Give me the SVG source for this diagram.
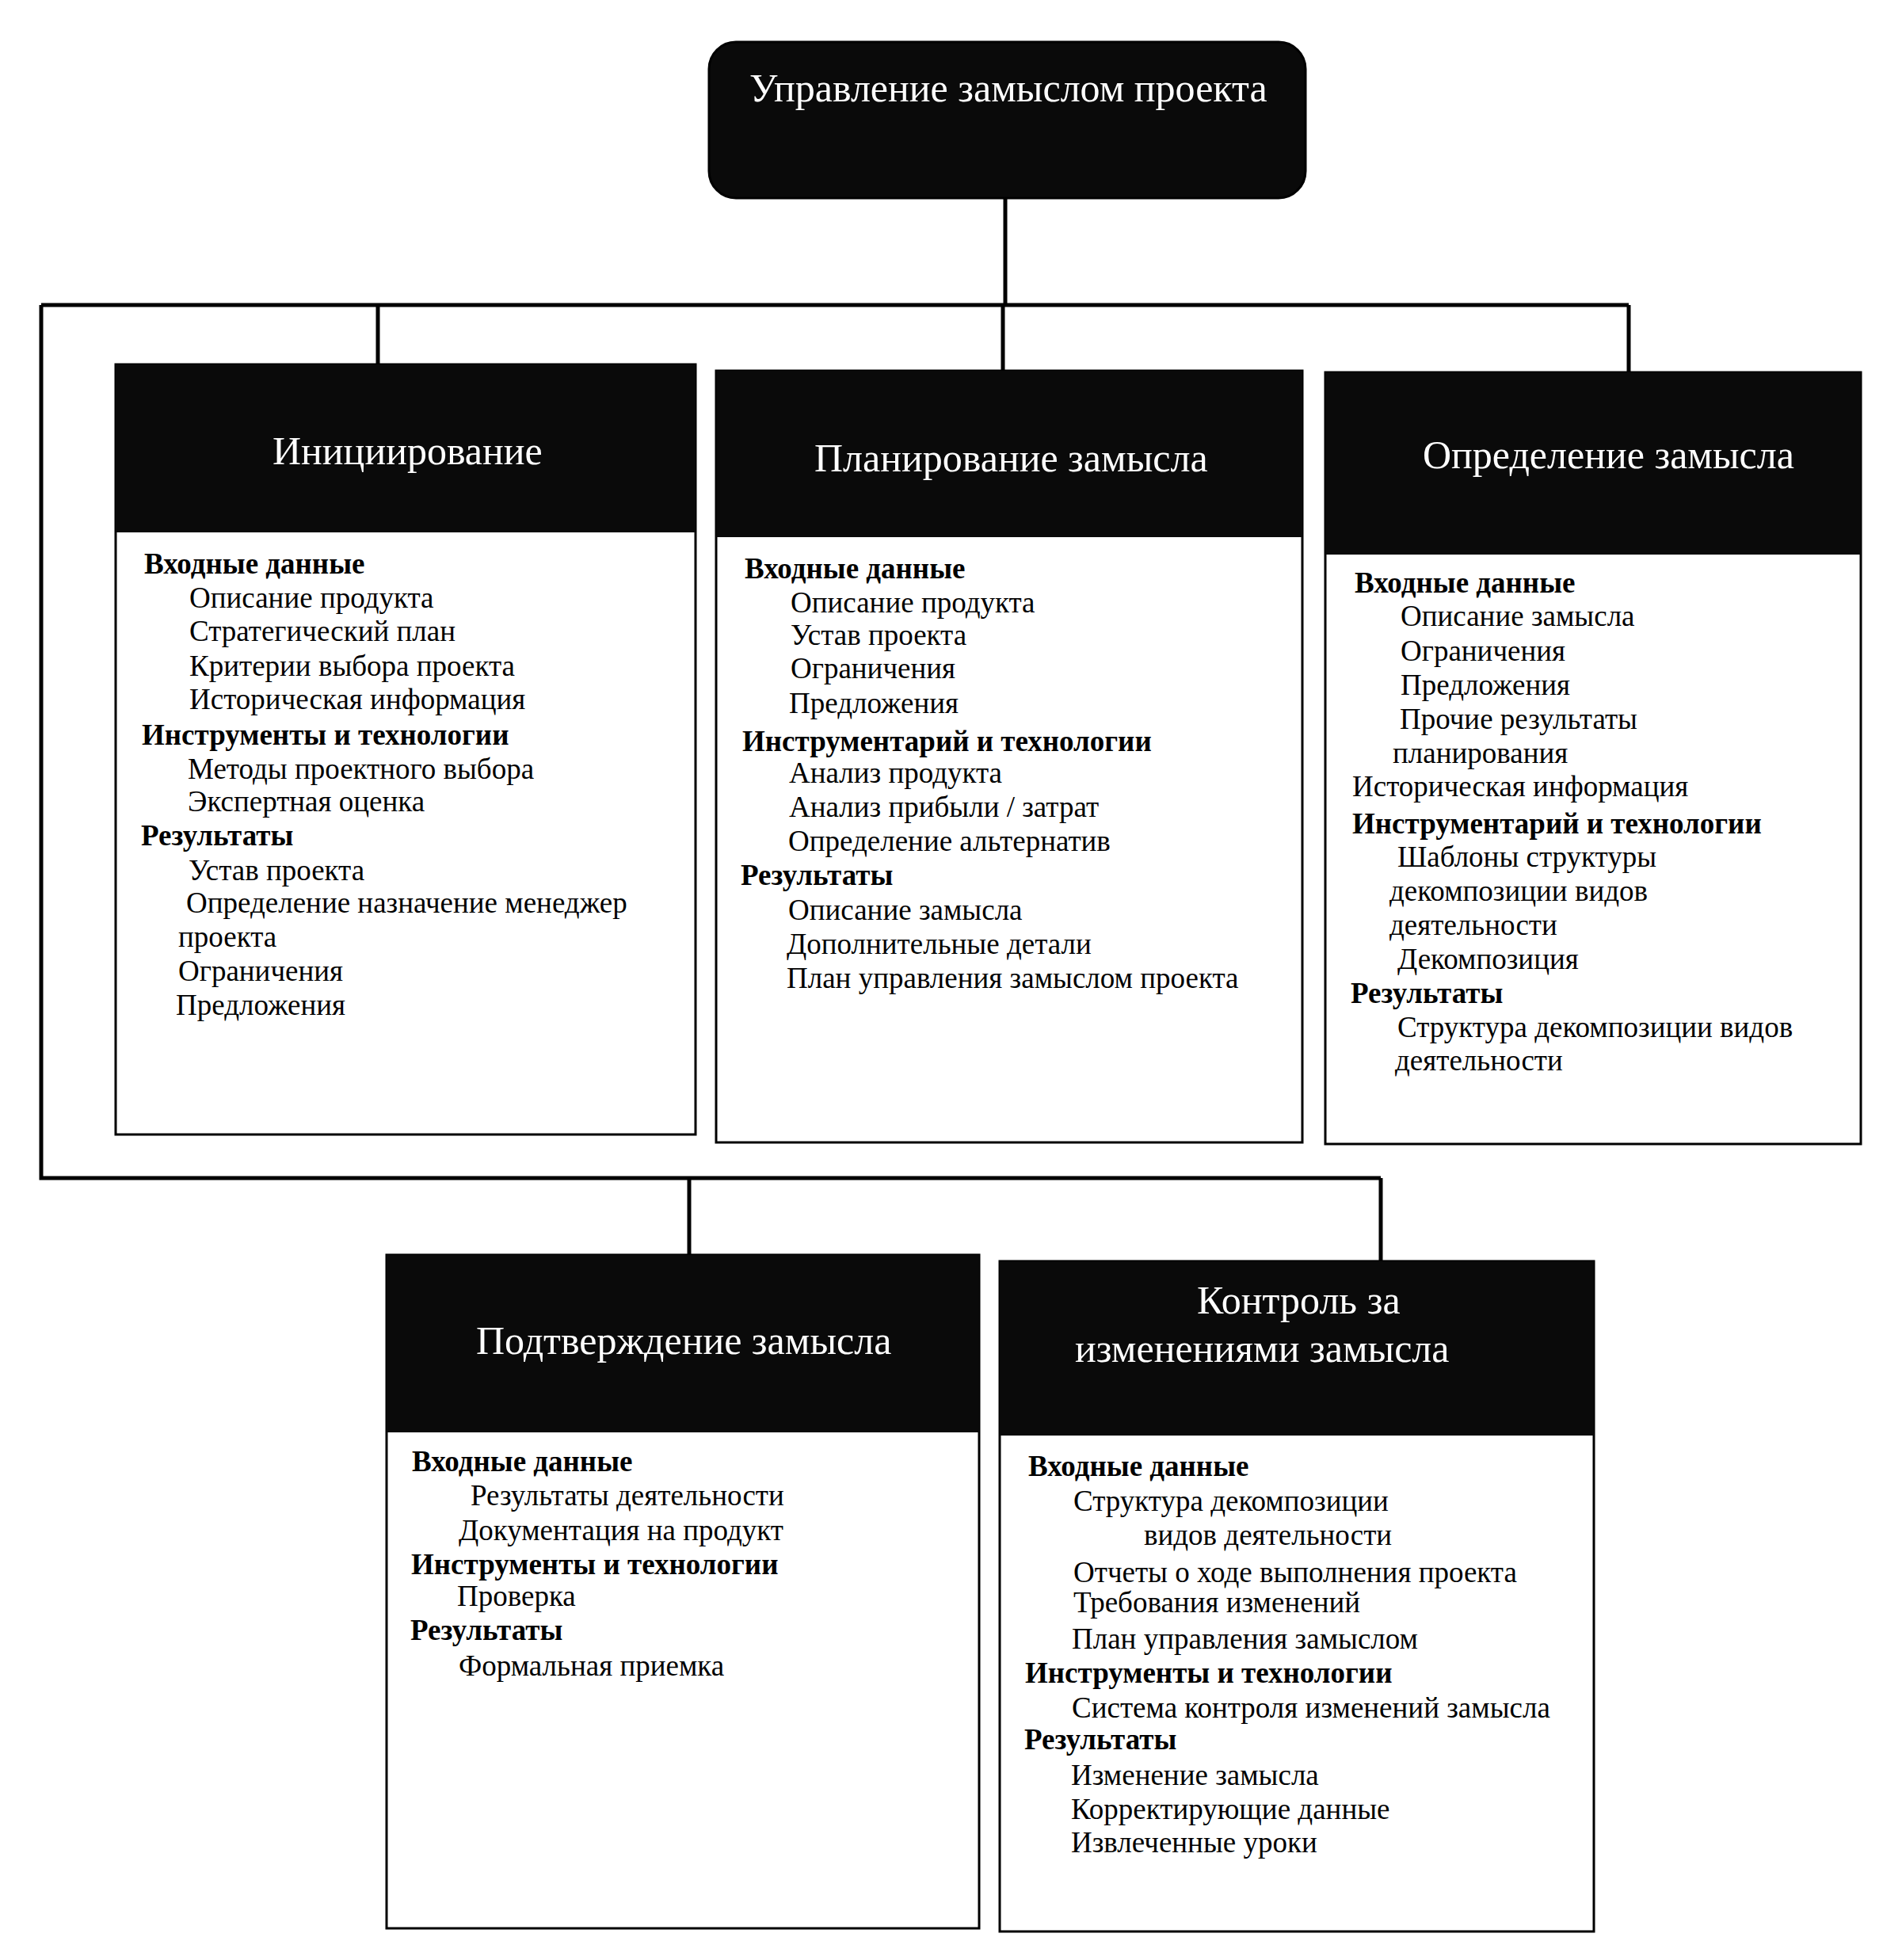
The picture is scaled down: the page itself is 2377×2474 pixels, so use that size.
<svg xmlns="http://www.w3.org/2000/svg" width="2377" height="2474" viewBox="0 0 2377 2474">
<style>
.bg{fill:#fff}
.box{fill:#fff;stroke:#000;stroke-width:3}
.hdr{fill:#0a0a0a}
.title{fill:#0a0a0a;stroke:#000;stroke-width:3}
.conn{stroke:#000;stroke-width:5;fill:none}
text{font-family:"Liberation Serif","Times New Roman",serif;fill:#000}
.h{font-size:50px;fill:#fff}
.b{font-size:37px;font-weight:bold}
.t{font-size:37px}
</style>
<rect class="bg" x="0" y="0" width="2377" height="2474"/>
<g id="connectors">
<path class="conn" d="M1269,250 V385"/>
<path class="conn" d="M52,385 H2056"/>
<path class="conn" d="M477,385 V460"/>
<path class="conn" d="M1266,385 V468"/>
<path class="conn" d="M2056,385 V470"/>
<path class="conn" d="M52,385 V1487 H1743"/>
<path class="conn" d="M870,1487 V1584"/>
<path class="conn" d="M1743,1487 V1592"/>
</g>
<g id="root">
<rect class="title" x="895" y="53" width="753" height="197" rx="34"/>
<text class="h" x="946" y="128">Управление замыслом проекта</text>
</g>
<g id="initiation">
<rect class="box" x="146" y="460" width="732" height="972"/>
<rect class="hdr" x="146" y="460" width="732" height="212"/>
<text class="h" x="344" y="586">Инициирование</text>
<text class="b" x="182" y="724">Входные данные</text>
<text class="t" x="239" y="767">Описание продукта</text>
<text class="t" x="239" y="809">Стратегический план</text>
<text class="t" x="239" y="853">Критерии выбора проекта</text>
<text class="t" x="239" y="895">Историческая информация</text>
<text class="b" x="179" y="940">Инструменты и технологии</text>
<text class="t" x="237" y="983">Методы проектного выбора</text>
<text class="t" x="237" y="1024">Экспертная оценка</text>
<text class="b" x="178" y="1067">Результаты</text>
<text class="t" x="238" y="1111">Устав проекта</text>
<text class="t" x="235" y="1152">Определение назначение менеджер</text>
<text class="t" x="225" y="1195">проекта</text>
<text class="t" x="225" y="1238">Ограничения</text>
<text class="t" x="222" y="1281">Предложения</text>
</g>
<g id="planning">
<rect class="box" x="904" y="468" width="740" height="974"/>
<rect class="hdr" x="904" y="468" width="740" height="210"/>
<text class="h" x="1028" y="595">Планирование замысла</text>
<text class="b" x="940" y="730">Входные данные</text>
<text class="t" x="998" y="773">Описание продукта</text>
<text class="t" x="998" y="814">Устав проекта</text>
<text class="t" x="998" y="856">Ограничения</text>
<text class="t" x="996" y="900">Предложения</text>
<text class="b" x="937" y="948">Инструментарий и технологии</text>
<text class="t" x="996" y="988">Анализ продукта</text>
<text class="t" x="996" y="1031">Анализ прибыли / затрат</text>
<text class="t" x="995" y="1074">Определение альтернатив</text>
<text class="b" x="935" y="1117">Результаты</text>
<text class="t" x="995" y="1161">Описание замысла</text>
<text class="t" x="993" y="1204">Дополнительные детали</text>
<text class="t" x="993" y="1247">План управления замыслом проекта</text>
</g>
<g id="definition">
<rect class="box" x="1673" y="470" width="676" height="974"/>
<rect class="hdr" x="1673" y="470" width="676" height="230"/>
<text class="h" x="1796" y="591">Определение замысла</text>
<text class="b" x="1710" y="748">Входные данные</text>
<text class="t" x="1768" y="790">Описание замысла</text>
<text class="t" x="1768" y="834">Ограничения</text>
<text class="t" x="1768" y="877">Предложения</text>
<text class="t" x="1767" y="920">Прочие результаты</text>
<text class="t" x="1758" y="963">планирования</text>
<text class="t" x="1707" y="1005">Историческая информация</text>
<text class="b" x="1707" y="1052">Инструментарий и технологии</text>
<text class="t" x="1764" y="1094">Шаблоны структуры</text>
<text class="t" x="1754" y="1137">декомпозиции видов</text>
<text class="t" x="1754" y="1180">деятельности</text>
<text class="t" x="1764" y="1223">Декомпозиция</text>
<text class="b" x="1705" y="1266">Результаты</text>
<text class="t" x="1764" y="1309">Структура декомпозиции видов</text>
<text class="t" x="1761" y="1351">деятельности</text>
</g>
<g id="verification">
<rect class="box" x="488" y="1584" width="748" height="850"/>
<rect class="hdr" x="488" y="1584" width="748" height="224"/>
<text class="h" x="601" y="1709">Подтверждение замысла</text>
<text class="b" x="520" y="1857">Входные данные</text>
<text class="t" x="594" y="1900">Результаты деятельности</text>
<text class="t" x="579" y="1944">Документация на продукт</text>
<text class="b" x="519" y="1987">Инструменты и технологии</text>
<text class="t" x="577" y="2027">Проверка</text>
<text class="b" x="518" y="2070">Результаты</text>
<text class="t" x="579" y="2115">Формальная приемка</text>
</g>
<g id="change-control">
<rect class="box" x="1262" y="1592" width="750" height="846"/>
<rect class="hdr" x="1262" y="1592" width="750" height="220"/>
<text class="h" x="1511" y="1658">Контроль за</text>
<text class="h" x="1357" y="1719">изменениями замысла</text>
<text class="b" x="1298" y="1863">Входные данные</text>
<text class="t" x="1355" y="1907">Структура декомпозиции</text>
<text class="t" x="1444" y="1950">видов деятельности</text>
<text class="t" x="1355" y="1997">Отчеты о ходе выполнения проекта</text>
<text class="t" x="1355" y="2035">Требования изменений</text>
<text class="t" x="1353" y="2081">План управления замыслом</text>
<text class="b" x="1294" y="2124">Инструменты и технологии</text>
<text class="t" x="1353" y="2168">Система контроля изменений замысла</text>
<text class="b" x="1293" y="2208">Результаты</text>
<text class="t" x="1352" y="2253">Изменение замысла</text>
<text class="t" x="1352" y="2296">Корректирующие данные</text>
<text class="t" x="1352" y="2338">Извлеченные уроки</text>
</g>
</svg>
